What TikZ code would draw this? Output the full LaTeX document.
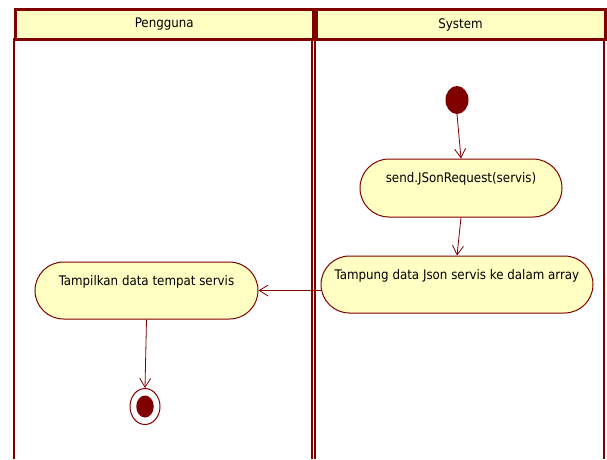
\documentclass[tikz,border=0pt]{standalone}
\usepackage{fontspec}
\setmainfont{DejaVu Sans Condensed}
\usetikzlibrary{shapes.misc,shapes.geometric,arrows.meta}
\definecolor{umlred}{RGB}{128,0,0}
\definecolor{umlfill}{RGB}{255,255,196}

\begin{document}
\begin{tikzpicture}[x=1pt,y=-1pt,
  lane/.style={draw=umlred,line width=2pt},
  header/.style={draw=umlred,fill=umlfill,line width=3pt,inner sep=0pt,
    font=\fontsize{13.2}{15}\selectfont},
  action/.style={rounded rectangle,draw=umlred,fill=umlfill,line width=1pt,
    inner xsep=0pt,text height=9.5pt,text depth=20pt,
    font=\fontsize{13.2}{15}\selectfont},
  flow/.style={draw=umlred,line width=0.8pt,
    -{Straight Barb[length=9pt,width=11pt]}},
  initial/.style={ellipse,fill=umlred,inner sep=0pt},
  final/.style={ellipse,draw=umlred,fill=white,line width=1pt,inner sep=0pt},
]
\useasboundingbox (0,0) rectangle (607,459);
\fill[white] (0,0) rectangle (607,459);

% swimlane borders
\draw[lane] (14,38) -- (14,459);
\draw[lane] (311.5,38) -- (311.5,459);
\draw[lane] (314.5,38) -- (314.5,459);
\draw[lane] (603.5,38) -- (603.5,459);

% swimlane headers
\node[header,minimum width=297.5pt,minimum height=29.5pt,anchor=north west]
  (huser) at (14,8.3) {Pengguna};
\node[header,minimum width=289pt,minimum height=29.5pt,anchor=north west]
  (hsys) at (314.5,8.3) {System};

% activity nodes
\node[initial,minimum width=23pt,minimum height=28pt] (start) at (457,100) {};
\node[action,minimum width=202pt,minimum height=58pt] (send) at (461,188)
  {send.JSonRequest(servis)};
\node[action,minimum width=272pt,minimum height=57pt] (tampung) at (457,284.5)
  {Tampung data Json servis ke dalam array};
\node[action,minimum width=223pt,minimum height=57pt] (tampil) at (146.5,290.5)
  {Tampilkan data tempat servis};
\node[final,minimum width=30pt,minimum height=36pt] (end) at (145,406.5) {};
\node[initial,minimum width=17.5pt,minimum height=22pt] (endcore) at (end) {};

% control flows
\draw[flow] (start.south) -- (send.north);
\draw[flow] (send.south) -- (tampung.north);
\draw[flow] (tampung.west |- tampil.east) -- (tampil.east);
\draw[flow] (tampil.south) -- (end.north);
\end{tikzpicture}
\end{document}
